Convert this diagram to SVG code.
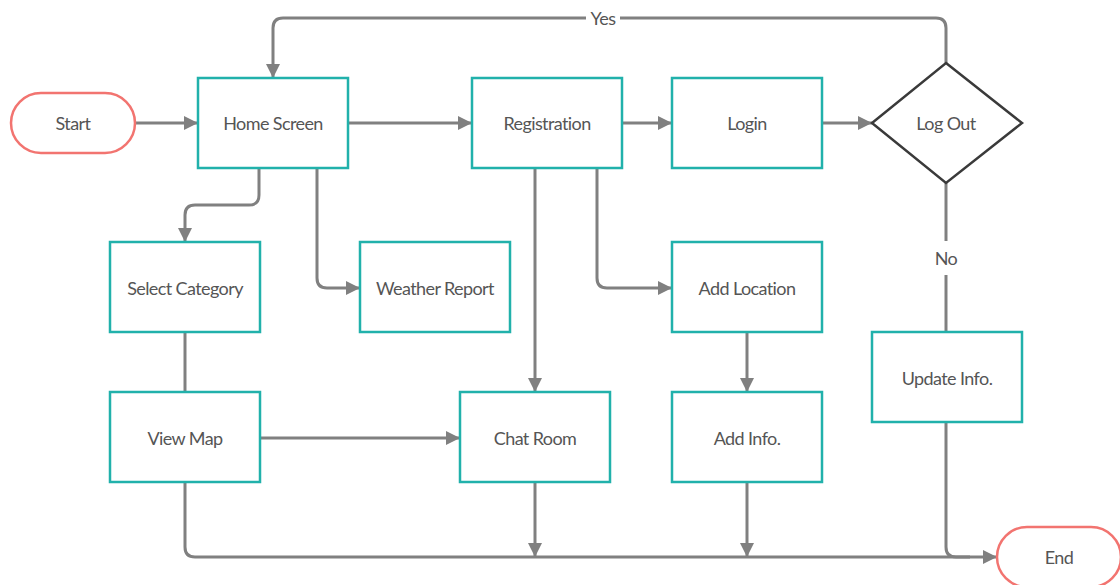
<svg xmlns="http://www.w3.org/2000/svg" width="1120" height="585" viewBox="0 0 1120 585">
  <style>
    .proc { fill: #ffffff; stroke: #21b1ab; stroke-width: 2.5; }
    .term { fill: #ffffff; stroke: #f27470; stroke-width: 2.5; }
    .dec { fill: #ffffff; stroke: #3a3a3a; stroke-width: 2.5; }
    .lbl { font-family: Lato, "Open Sans", sans-serif; font-size: 18px; letter-spacing: -0.6px; fill: #555555; text-anchor: middle; dominant-baseline: central; }
    .edge { fill: none; stroke: #808080; stroke-width: 3; }
    .gap { fill: #ffffff; stroke: none; }
  </style>
  <defs>
    <marker id="arrow" markerUnits="userSpaceOnUse" markerWidth="16" markerHeight="16" refX="14" refY="7" orient="auto">
      <path d="M0,0 L14,7 L0,14 z" fill="#808080"/>
    </marker>
  </defs>

  <rect width="1120" height="585" fill="#ffffff"/>

  <!-- connectors -->
  <g id="connectors">
    <line class="edge" x1="135" y1="123" x2="198" y2="123" marker-end="url(#arrow)"/>
    <line class="edge" x1="348" y1="123" x2="472" y2="123" marker-end="url(#arrow)"/>
    <line class="edge" x1="622" y1="123" x2="672" y2="123" marker-end="url(#arrow)"/>
    <line class="edge" x1="822" y1="123" x2="872" y2="123" marker-end="url(#arrow)"/>
    <!-- Yes loop back to Home Screen -->
    <path class="edge" d="M946,63 V28 Q946,18 936,18 H283 Q273,18 273,28 V78" marker-end="url(#arrow)"/>
    <rect class="gap" x="586" y="8" width="34" height="20"/>
    <text class="lbl" x="603" y="18">Yes</text>
    <!-- Home Screen branches -->
    <path class="edge" d="M259,168 V195 Q259,205 249,205 H195 Q185,205 185,215 V242" marker-end="url(#arrow)"/>
    <path class="edge" d="M317,168 V278 Q317,288 327,288 H360" marker-end="url(#arrow)"/>
    <!-- Registration branches -->
    <line class="edge" x1="535" y1="168" x2="535" y2="392" marker-end="url(#arrow)"/>
    <path class="edge" d="M597,168 V278 Q597,288 607,288 H672" marker-end="url(#arrow)"/>
    <!-- No branch -->
    <line class="edge" x1="946" y1="183" x2="946" y2="332"/>
    <rect class="gap" x="930" y="241" width="32" height="34"/>
    <text class="lbl" x="946" y="258">No</text>
    <!-- middle row -->
    <line class="edge" x1="185" y1="332" x2="185" y2="392"/>
    <line class="edge" x1="747" y1="332" x2="747" y2="392" marker-end="url(#arrow)"/>
    <line class="edge" x1="261" y1="438" x2="460" y2="438" marker-end="url(#arrow)"/>
    <!-- into End -->
    <path class="edge" d="M185,482 V547 Q185,557 195,557 H997" marker-end="url(#arrow)"/>
    <line class="edge" x1="535" y1="482" x2="535" y2="557" marker-end="url(#arrow)"/>
    <line class="edge" x1="747" y1="482" x2="747" y2="557" marker-end="url(#arrow)"/>
    <path class="edge" d="M946,422 V547 Q946,557 956,557 H970"/>
  </g>

  <!-- nodes -->
  <g id="start">
    <rect class="term" x="11" y="93" width="124" height="60" rx="30"/>
    <text class="lbl" x="73" y="123">Start</text>
  </g>
  <g id="home-screen">
    <rect class="proc" x="198" y="78" width="150" height="90"/>
    <text class="lbl" x="273" y="123">Home Screen</text>
  </g>
  <g id="registration">
    <rect class="proc" x="472" y="78" width="150" height="90"/>
    <text class="lbl" x="547" y="123">Registration</text>
  </g>
  <g id="login">
    <rect class="proc" x="672" y="78" width="150" height="90"/>
    <text class="lbl" x="747" y="123">Login</text>
  </g>
  <g id="log-out">
    <polygon class="dec" points="946,63 1022,123 946,183 872,123"/>
    <text class="lbl" x="946" y="123">Log Out</text>
  </g>
  <g id="select-category">
    <rect class="proc" x="110" y="242" width="150" height="90"/>
    <text class="lbl" x="185" y="288">Select Category</text>
  </g>
  <g id="weather-report">
    <rect class="proc" x="360" y="242" width="150" height="90"/>
    <text class="lbl" x="435" y="288">Weather Report</text>
  </g>
  <g id="add-location">
    <rect class="proc" x="672" y="242" width="150" height="90"/>
    <text class="lbl" x="747" y="288">Add Location</text>
  </g>
  <g id="update-info">
    <rect class="proc" x="872" y="332" width="150" height="90"/>
    <text class="lbl" x="947" y="378">Update Info.</text>
  </g>
  <g id="view-map">
    <rect class="proc" x="110" y="392" width="150" height="90"/>
    <text class="lbl" x="185" y="438">View Map</text>
  </g>
  <g id="chat-room">
    <rect class="proc" x="460" y="392" width="150" height="90"/>
    <text class="lbl" x="535" y="438">Chat Room</text>
  </g>
  <g id="add-info">
    <rect class="proc" x="672" y="392" width="150" height="90"/>
    <text class="lbl" x="747" y="438">Add Info.</text>
  </g>
  <g id="end">
    <rect class="term" x="997" y="527" width="124" height="60" rx="30"/>
    <text class="lbl" x="1059" y="557">End</text>
  </g>
</svg>
